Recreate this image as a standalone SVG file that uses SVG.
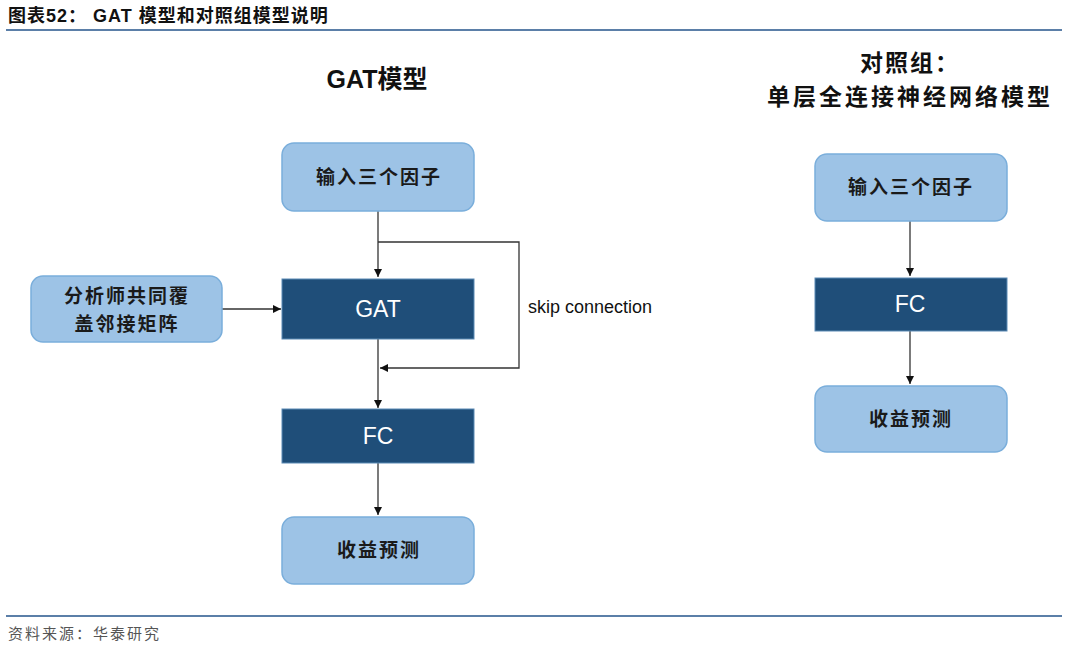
<svg xmlns="http://www.w3.org/2000/svg" width="1080" height="652" viewBox="0 0 1080 652">
<style>
.t{font-family:"Liberation Sans","Noto Sans CJK SC",sans-serif;}
.light{fill:#9dc3e6;stroke:#7aaedb;stroke-width:1.5;}
.dark{fill:#1f4e79;stroke:#5b8ab5;stroke-width:1;}
.lt{font-size:19px;font-weight:bold;fill:#1a1a1a;text-anchor:middle;letter-spacing:2px;font-family:"Noto Sans CJK SC",sans-serif;}
.dt{font-size:23px;fill:#fff;text-anchor:middle;font-family:"Liberation Sans",sans-serif;}
.c{stroke:#333;stroke-width:1.3;fill:none;}
</style>
<defs><marker id="a" viewBox="0 0 10 10" refX="10" refY="5" markerWidth="8" markerHeight="8" orient="auto" markerUnits="userSpaceOnUse"><path d="M0,0L10,5L0,10z" fill="#111"/></marker></defs>
<rect width="1080" height="652" fill="#fff"/>
<text x="8" y="22" class="t" font-size="18" font-weight="bold" fill="#111" letter-spacing="1">图表52：  GAT 模型和对照组模型说明</text>
<line x1="6" y1="30" x2="1062" y2="30" stroke="#5b7fa8" stroke-width="2"/>
<line x1="6" y1="616" x2="1062" y2="616" stroke="#5b7fa8" stroke-width="2"/>
<text x="8" y="639" font-family="Noto Sans CJK SC,sans-serif" font-size="15" fill="#555" letter-spacing="2">资料来源：华泰研究</text>
<text x="377" y="88" text-anchor="middle" class="t" font-size="25" font-weight="bold" fill="#111">GAT模型</text>
<text x="910" y="71" text-anchor="middle" font-family="Noto Sans CJK SC,sans-serif" font-size="23" font-weight="bold" fill="#111" letter-spacing="2">对照组：</text>
<text x="910" y="105" text-anchor="middle" font-family="Noto Sans CJK SC,sans-serif" font-size="23" font-weight="bold" fill="#111" letter-spacing="3">单层全连接神经网络模型</text>
<g id="conn">
<path class="c" d="M378 211V277" marker-end="url(#a)"/>
<path class="c" d="M378 242H519V368H380" marker-end="url(#a)"/>
<path class="c" d="M378 339V408" marker-end="url(#a)"/>
<path class="c" d="M378 463V515" marker-end="url(#a)"/>
<path class="c" d="M222 309H281" marker-end="url(#a)"/>
<path class="c" d="M910 221V276" marker-end="url(#a)"/>
<path class="c" d="M910 331V384" marker-end="url(#a)"/>
<text x="528" y="313" font-family="Liberation Sans,sans-serif" font-size="18" fill="#111">skip connection</text>
</g>
<g id="in1"><rect class="light" x="282" y="143" width="192" height="68" rx="12"/><text class="lt" x="379" y="184">输入三个因子</text></g>
<g id="adj"><rect class="light" x="31" y="276" width="191" height="66" rx="12"/><text class="lt" x="127" y="303">分析师共同覆</text><text class="lt" x="127" y="331">盖邻接矩阵</text></g>
<g id="gat"><rect class="dark" x="282" y="279" width="192" height="60"/><text class="dt" x="378" y="317">GAT</text></g>
<g id="fc1"><rect class="dark" x="282" y="409" width="192" height="54"/><text class="dt" x="378" y="444">FC</text></g>
<g id="out1"><rect class="light" x="282" y="517" width="192" height="67" rx="12"/><text class="lt" x="379" y="557">收益预测</text></g>
<g id="in2"><rect class="light" x="815" y="154" width="192" height="67" rx="12"/><text class="lt" x="911" y="194">输入三个因子</text></g>
<g id="fc2"><rect class="dark" x="815" y="278" width="192" height="53"/><text class="dt" x="910" y="312">FC</text></g>
<g id="out2"><rect class="light" x="815" y="386" width="192" height="66" rx="12"/><text class="lt" x="911" y="426">收益预测</text></g>
</svg>
